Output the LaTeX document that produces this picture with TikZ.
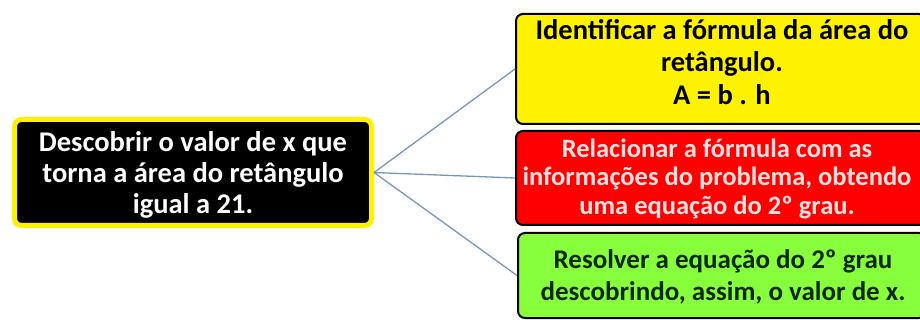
\documentclass[tikz,border=0pt]{standalone}
\usepackage{fontspec}
\setmainfont{Carlito}
\begin{document}
\begin{tikzpicture}[x=1pt,y=-1pt,
  box/.style={rounded corners=7pt, line width=2pt, draw=black, inner sep=0pt},
  txt/.style={align=center, inner sep=0pt},
  conn/.style={draw=linec, line width=1.3pt}]
\definecolor{linec}{RGB}{120,150,185}
\definecolor{greenf}{RGB}{135,255,60}
\definecolor{redtext}{RGB}{255,225,225}
\definecolor{greentext}{RGB}{10,40,10}
\useasboundingbox (0,0) rectangle (920,320);
\begin{scope}
\clip (0,0) rectangle (920,320);
\node[box, draw=yellow, line width=5pt, fill=black, minimum width=357pt, minimum height=106pt] (root) at (193,172.5) {};
\node[box, fill=yellow, minimum width=410pt, minimum height=110pt] (a) at (721,69) {};
\node[box, fill=red, minimum width=410pt, minimum height=94pt] (b) at (721,178) {};
\node[box, fill=greenf, minimum width=408pt, minimum height=85pt] (c) at (722,275.5) {};
\node[txt, text=white, font=\fontsize{28.5}{31}\selectfont\bfseries] (roott) at (193,174.5)
  {Descobrir o valor de x que\\torna a área do retângulo\\igual a 21.};
\node[txt, text=black, font=\fontsize{28.5}{32.5}\selectfont\bfseries] (at) at (722,62)
  {Identificar a fórmula da área do\\retângulo.\\A = b . h};
\node[txt, text=redtext, font=\fontsize{26.5}{28.5}\selectfont\bfseries] (bt) at (717,178.5)
  {Relacionar a fórmula com as\\informações do problema, obtendo\\uma equação do 2º grau.};
\node[txt, text=greentext, font=\fontsize{27}{32}\selectfont\bfseries] (ct) at (723,277)
  {Resolver a equação do 2º grau\\descobrindo, assim, o valor de x.};
\end{scope}
\draw[conn] (root.east) -- (a.west);
\draw[conn] (root.east) -- (b.west);
\draw[conn] (root.east) -- (c.west);
\end{tikzpicture}
\end{document}
